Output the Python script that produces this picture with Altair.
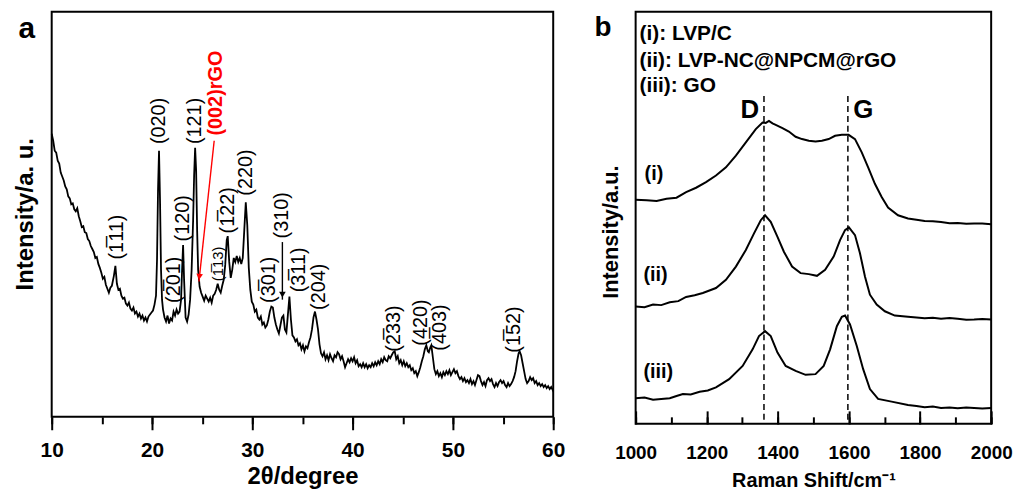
import altair as alt
import pandas as pd

# ---------------- panel a : XRD ----------------
two_theta = [
    10.0, 10.15, 10.3, 10.45, 10.6, 10.75, 10.9, 11.05, 11.2, 11.35, 11.5, 11.65, 11.8, 11.95,
    12.1, 12.25, 12.4, 12.55, 12.7, 12.85, 13.0, 13.15, 13.3, 13.45, 13.6, 13.75, 13.9, 14.05,
    14.2, 14.35, 14.5, 14.65, 14.8, 14.95, 15.1, 15.25, 15.4, 15.55, 15.7, 15.85, 16.0, 16.2,
    16.35, 16.5, 16.65, 16.8, 16.95, 17.1, 17.25, 17.4, 17.55, 17.7, 17.85, 18.0, 18.15, 18.3,
    18.45, 18.6, 18.75, 18.9, 19.05, 19.2, 19.35, 19.5, 19.65, 19.8, 19.95, 20.1, 20.25, 20.4,
    20.5, 20.6, 20.7, 20.8, 20.9, 21.0, 21.1, 21.25, 21.4, 21.55, 21.7, 21.85, 22.0, 22.15,
    22.3, 22.45, 22.6, 22.75, 22.9, 23.0, 23.1, 23.2, 23.35, 23.5, 23.65, 23.8, 23.95, 24.1,
    24.2, 24.3, 24.4, 24.5, 24.6, 24.75, 24.9, 25.05, 25.2, 25.35, 25.5, 25.65, 25.8, 25.95,
    26.1, 26.25, 26.4, 26.55, 26.7, 26.85, 27.0, 27.15, 27.3, 27.45, 27.55, 27.7, 27.85, 28.0,
    28.15, 28.3, 28.45, 28.6, 28.75, 28.9, 29.05, 29.2, 29.35, 29.5, 29.65, 29.8, 29.95, 30.1,
    30.25, 30.4, 30.55, 30.7, 30.85, 31.0, 31.15, 31.3, 31.45, 31.6, 31.75, 31.9, 32.05, 32.2,
    32.35, 32.5, 32.65, 32.8, 32.95, 33.1, 33.25, 33.4, 33.55, 33.7, 33.85, 34.0, 34.15, 34.3,
    34.45, 34.6, 34.75, 34.9, 35.05, 35.2, 35.35, 35.5, 35.65, 35.8, 35.95, 36.1, 36.25, 36.4,
    36.55, 36.7, 36.85, 37.0, 37.15, 37.3, 37.45, 37.6, 37.75, 37.9, 38.05, 38.2, 38.35, 38.5,
    38.65, 38.8, 38.95, 39.1, 39.25, 39.4, 39.55, 39.7, 39.85, 40.0, 40.15, 40.3, 40.45, 40.6,
    40.75, 40.9, 41.05, 41.2, 41.35, 41.5, 41.65, 41.8, 41.95, 42.1, 42.25, 42.4, 42.55, 42.7,
    42.85, 43.0, 43.15, 43.3, 43.45, 43.6, 43.75, 43.9, 44.05, 44.2, 44.35, 44.5, 44.65, 44.8,
    44.95, 45.1, 45.25, 45.4, 45.55, 45.7, 45.85, 46.0, 46.15, 46.3, 46.45, 46.6, 46.75, 46.9,
    47.05, 47.2, 47.35, 47.5, 47.6, 47.75, 47.85, 48.0, 48.15, 48.3, 48.45, 48.6, 48.75, 48.9,
    49.05, 49.2, 49.35, 49.5, 49.65, 49.8, 49.95, 50.1, 50.25, 50.4, 50.55, 50.7, 50.85, 51.0,
    51.15, 51.3, 51.45, 51.6, 51.75, 51.9, 52.05, 52.2, 52.35, 52.5, 52.65, 52.8, 52.95, 53.1,
    53.25, 53.4, 53.55, 53.7, 53.85, 54.0, 54.15, 54.3, 54.45, 54.6, 54.75, 54.9, 55.05, 55.2,
    55.35, 55.5, 55.65, 55.8, 55.95, 56.1, 56.25, 56.4, 56.55, 56.65, 56.8, 56.95, 57.1, 57.25,
    57.4, 57.55, 57.7, 57.85, 58.0, 58.15, 58.3, 58.45, 58.6, 58.75, 58.9, 59.05, 59.2, 59.35,
    59.5, 59.65, 59.8, 59.95, 60.0,
]
xrd_intensity = [
    285, 278, 268, 266, 258, 255, 246, 242, 238, 232, 229, 222, 220, 214,
    215, 209, 207, 210, 202, 197, 191, 192, 186, 185, 179, 177, 172, 169,
    166, 160, 161, 154, 150, 145, 139, 141, 133, 129, 125, 130, 132, 142,
    152, 134, 128, 129, 122, 119, 120, 114, 112, 115, 109, 107, 110, 104,
    106, 101, 104, 99, 102, 97, 100, 96, 101, 103, 105, 107, 113, 122,
    158, 228, 268, 218, 148, 118, 108, 100, 96, 102, 94, 99, 97, 106,
    102, 108, 104, 106, 118, 148, 173, 138, 100, 96, 103, 118, 148, 198,
    243, 271, 248, 188, 148, 131, 125, 121, 117, 122, 119, 116, 120, 115,
    122, 124, 128, 134, 128, 125, 132, 138, 153, 178, 182, 156, 140, 148,
    160, 156, 162, 156, 160, 154, 160, 188, 216, 193, 150, 128, 116, 113,
    106, 108, 100, 98, 101, 93, 95, 90, 92, 98, 106, 111, 110, 100,
    93, 88, 84, 92, 100, 102, 88, 85, 103, 121, 98, 82, 80, 76,
    78, 72, 74, 68, 72, 66, 71, 69, 75, 80, 88, 100, 106, 98,
    88, 73, 64, 61, 65, 58, 62, 57, 63, 59, 56, 62, 60, 65,
    63, 58, 61, 56, 50, 54, 58, 55, 59, 56, 60, 54, 57, 51,
    53, 50, 54, 50, 53, 49, 52, 50, 54, 51, 55, 52, 56, 53,
    58, 55, 60, 57, 56, 61, 59, 62, 65, 66, 58, 61, 54, 57,
    52, 56, 51, 54, 50, 52, 47, 49, 44, 46, 41, 45, 50, 56,
    61, 68, 72, 66, 65, 70, 72, 60, 48, 43, 46, 41, 44, 40,
    45, 42, 46, 43, 47, 42, 45, 48, 44, 46, 41, 38, 40, 36,
    39, 35, 37, 34, 38, 33, 36, 32, 37, 42, 41, 36, 32, 35,
    31, 37, 39, 36, 38, 33, 30, 34, 31, 35, 37, 34, 36, 32,
    30, 34, 31, 33, 36, 40, 46, 56, 64, 66, 62, 54, 46, 38,
    34, 36, 40, 37, 39, 34, 36, 32, 34, 31, 33, 30, 32, 29,
    31, 28, 30, 27, 29,
]

peak_labels = ["(1\u030511)", "(020)", "(2\u030501)", "(120)", "(121)", "(1\u030513)",
               "(1\u030522)", "(220)", "(3\u030501)", "(310)", "(3\u030511)", "(204)",
               "(2\u030533)", "(420)", "(4\u030503)", "(1\u030552)"]
peak_label_pos = [16.5, 20.72, 22.18, 23.1, 24.26, 26.56, 27.55, 29.38, 31.68, 33.0,
                  34.65, 36.63, 44.16, 46.86, 48.68, 56.1]
peak_label_height = [181, 298, 138, 200, 298, 154, 208, 246, 138, 203, 148, 131, 89, 95, 90, 88]
peak_label_size = [20, 20, 20, 20, 20, 15, 20, 20, 20, 20, 20, 20, 20, 20, 20, 20]

rgo_label = ["(002)rGO"]
rgo_label_pos = [26.34]
rgo_label_height = [326]

arrow_from_x = [26.2, 33.0]
arrow_from_y = [278, 176]
arrow_to_x = [24.68, 33.0]
arrow_to_y = [136.3, 118]
arrow_head_x = [24.72, 33.0]
arrow_head_y = [141.0, 123]
arrow_head_angle = [6.3, 0]
arrow_colors = ["red", "black"]

# ---------------- panel b : Raman ----------------
raman_i_x = [1000, 1031, 1059, 1087, 1115, 1142, 1170, 1198, 1226, 1254, 1282, 1310, 1338, 1357,
             1366, 1375, 1385, 1394, 1413, 1431, 1450, 1468, 1487, 1506, 1524, 1543, 1561, 1580,
             1599, 1617, 1636, 1654, 1673, 1692, 1710, 1738, 1766, 1790, 1813, 1836, 1859, 1883,
             1906, 1930, 1952, 1975, 2000]
raman_i_y = [225.7, 225, 224.3, 226.7, 227.7, 233.3, 237.7, 243.3, 250, 258.3, 270, 283.3, 296.7, 303.3,
             303.0, 305, 302.5, 301, 297.7, 294.3, 289, 286.7, 285, 284.3, 285, 286.7, 290, 291,
             291, 286.7, 273.3, 258.3, 241.7, 228.3, 217.7, 210, 206.7, 205.5, 204.3, 204.0, 203.3, 202.0,
             202.3, 201.5, 201.7, 201.8, 201]

raman_ii_x = [1000, 1025, 1049, 1072, 1096, 1120, 1142, 1166, 1189, 1226, 1254, 1282, 1310, 1333,
              1352, 1364, 1380, 1399, 1417, 1440, 1464, 1487, 1510, 1533, 1557, 1575, 1589, 1600,
              1617, 1631, 1645, 1659, 1678, 1701, 1729, 1766, 1790, 1813, 1836, 1859, 1883, 1906,
              1930, 1952, 1975, 2000]
raman_ii_y = [118, 117.3, 120, 119.5, 122.3, 123.5, 127.7, 129.5, 131.7, 136.7, 145, 158.3, 175, 191.7,
              205, 210, 203.3, 188.3, 173.3, 158.3, 151.7, 150.7, 149, 155, 168.3, 185, 195, 197.7,
              190, 171.7, 148.3, 130, 120, 113.3, 109, 107.7, 107.0, 106.3, 106.8, 105.7, 106.5, 105.7,
              104.8, 105, 105.6, 105]

raman_iii_x = [1000, 1025, 1049, 1072, 1096, 1115, 1133, 1155, 1180, 1203, 1226, 1263, 1301, 1329,
               1347, 1364, 1380, 1399, 1422, 1450, 1478, 1506, 1529, 1547, 1566, 1580, 1589, 1603,
               1622, 1640, 1659, 1682, 1720, 1766, 1790, 1813, 1836, 1859, 1883, 1906, 1930, 1952,
               1975, 2000]
raman_iii_y = [25.7, 26.5, 24.3, 25.0, 25.7, 28.0, 30, 29.5, 32.3, 33.5, 36.7, 45, 58.3, 75,
               88.3, 93.3, 88.3, 71.7, 58.3, 53.3, 49.3, 50, 58.3, 75, 98.3, 107.7, 109, 100,
               78.3, 55, 35, 25, 22.3, 19, 18.0, 16.7, 17.3, 16, 16.5, 15.7, 16.3, 16,
               15.5, 16]

legend_lines = ["(i): LVP/C", "(ii): LVP-NC@NPCM@rGO", "(iii): GO"]
legend_x = [1011, 1011, 1011]
legend_y = [392, 365, 340]

band_names = ["D", "G"]
band_pos = [1361, 1597]
band_label_x = [1321, 1640]
band_label_y = [316, 316]
band_line_top = [330, 330]

curve_names = ["(i)", "(ii)", "(iii)"]
curve_name_x = [1025, 1022, 1022]
curve_name_y = [251, 150, 52]

FONT = "Liberation Sans"
LABEL_FONT = "Liberation Sans, DejaVu Sans"
A_W, A_H = 505, 408
B_W, B_H = 358, 415

# ---------------- build panel a ----------------
xrd_df = pd.DataFrame({"tt": two_theta, "I": xrd_intensity})
peak_df = pd.DataFrame({"tt": peak_label_pos, "I": peak_label_height,
                        "label": peak_labels, "fs": peak_label_size})
rgo_df = pd.DataFrame({"tt": rgo_label_pos, "I": rgo_label_height, "label": rgo_label})
arrow_df = pd.DataFrame({"x": arrow_from_x, "y": arrow_from_y, "x2": arrow_to_x, "y2": arrow_to_y,
                         "hx": arrow_head_x, "hy": arrow_head_y, "ang": arrow_head_angle,
                         "c": arrow_colors})

xa_scale = alt.Scale(domain=[10, 60], nice=False)
ya_scale = alt.Scale(domain=[0, A_H], nice=False, zero=False)

xa_major = alt.Axis(orient="bottom", values=[10, 20, 30, 40, 50, 60], tickSize=13, tickWidth=2,
                    tickColor="black", labelFontSize=21, labelFontWeight="bold", labelColor="black",
                    labelPadding=10, domain=False, grid=False, title="2\u03b8/degree",
                    titleFontSize=24, titleFontWeight="bold", titleColor="black", titleY=60,
                    titleBaseline="middle", labelFlush=False, format="d")
xa_minor = alt.Axis(orient="bottom", values=[10, 15, 20, 25, 30, 35, 40, 45, 50, 55, 60], tickSize=7,
                    tickWidth=2, tickColor="black", labels=False, domain=False, grid=False, title=None)

a_line = alt.Chart(xrd_df).mark_line(color="black", strokeWidth=1.8).encode(
    x=alt.X("tt:Q", scale=xa_scale, axis=xa_major),
    y=alt.Y("I:Q", scale=ya_scale, axis=None),
)
a_peaks = alt.Chart(peak_df).mark_text(angle=270, align="center", baseline="middle",
                                       color="black", font=LABEL_FONT).encode(
    x=alt.X("tt:Q", scale=xa_scale, axis=xa_minor),
    y=alt.Y("I:Q", scale=ya_scale, axis=None),
    text="label:N",
    size=alt.Size("fs:Q", scale=None, legend=None),
)
a_rgo = alt.Chart(rgo_df).mark_text(angle=270, align="center", baseline="middle", color="red",
                                    fontSize=20, fontWeight="bold").encode(
    x=alt.X("tt:Q", scale=xa_scale, axis=None),
    y=alt.Y("I:Q", scale=ya_scale, axis=None),
    text="label:N",
)
a_arrows = alt.Chart(arrow_df).mark_rule(strokeWidth=1.4).encode(
    x=alt.X("x:Q", scale=xa_scale, axis=None),
    y=alt.Y("y:Q", scale=ya_scale, axis=None),
    x2="x2:Q", y2="y2:Q",
    color=alt.Color("c:N", scale=None, legend=None),
)
a_heads = alt.Chart(arrow_df).mark_point(shape="triangle-down", filled=True, size=45, opacity=1).encode(
    x=alt.X("hx:Q", scale=xa_scale, axis=None),
    y=alt.Y("hy:Q", scale=ya_scale, axis=None),
    angle=alt.Angle("ang:Q", scale=None),
    color=alt.Color("c:N", scale=None, legend=None),
)
a_letter = alt.Chart(pd.DataFrame({"t": ["a"]})).mark_text(
    fontSize=30, fontWeight="bold", align="center", baseline="alphabetic", color="black").encode(
    x=alt.value(-25), y=alt.value(27), text="t:N")
a_ytitle = alt.Chart(pd.DataFrame({"t": ["Intensity/a. u."]})).mark_text(
    fontSize=24, fontWeight="bold", align="center", baseline="middle", angle=270,
    color="black").encode(x=alt.value(-26), y=alt.value(204), text="t:N")

panel_a = alt.layer(a_line, a_peaks, a_rgo, a_arrows, a_heads, a_letter, a_ytitle).resolve_axis(
    x="independent").properties(width=A_W, height=A_H)

# ---------------- build panel b ----------------
raman_df = pd.concat([
    pd.DataFrame({"r": raman_i_x, "I": raman_i_y, "s": "i"}),
    pd.DataFrame({"r": raman_ii_x, "I": raman_ii_y, "s": "ii"}),
    pd.DataFrame({"r": raman_iii_x, "I": raman_iii_y, "s": "iii"}),
])
legend_df = pd.DataFrame({"r": legend_x, "I": legend_y, "t": legend_lines})
band_df = pd.DataFrame({"r": band_pos, "top": band_line_top, "bottom": [0, 0],
                        "lx": band_label_x, "ly": band_label_y, "t": band_names})
cname_df = pd.DataFrame({"r": curve_name_x, "I": curve_name_y, "t": curve_names})

xb_scale = alt.Scale(domain=[1000, 2000], nice=False)
yb_scale = alt.Scale(domain=[0, B_H], nice=False, zero=False)

xb_major = alt.Axis(orient="bottom", values=[1000, 1200, 1400, 1600, 1800, 2000], offset=-13,
                    tickSize=13, tickWidth=2, tickColor="black", labelFontSize=19,
                    labelFontWeight="bold", labelColor="black", labelPadding=20, domain=False,
                    grid=False, title="Raman Shift/cm\u207b\u00b9", titleFontSize=20,
                    titleFontWeight="bold", titleColor="black", titleY=70, titleBaseline="middle",
                    labelFlush=False, format="d")
xb_minor = alt.Axis(orient="bottom", values=[1000, 1100, 1200, 1300, 1400, 1500, 1600, 1700, 1800,
                                             1900, 2000], offset=-7, tickSize=7, tickWidth=2,
                    tickColor="black", labels=False, domain=False, grid=False, title=None)

b_lines = alt.Chart(raman_df).mark_line(color="black", strokeWidth=2).encode(
    x=alt.X("r:Q", scale=xb_scale, axis=xb_major),
    y=alt.Y("I:Q", scale=yb_scale, axis=None),
    detail="s:N",
)
b_dash = alt.Chart(band_df).mark_rule(color="black", strokeWidth=1.5, strokeDash=[6, 4]).encode(
    x=alt.X("r:Q", scale=xb_scale, axis=xb_minor),
    y=alt.Y("top:Q", scale=yb_scale, axis=None),
    y2="bottom:Q",
)
b_band_text = alt.Chart(band_df).mark_text(fontSize=26, fontWeight="bold", align="center",
                                           baseline="middle", color="black").encode(
    x=alt.X("lx:Q", scale=xb_scale, axis=None),
    y=alt.Y("ly:Q", scale=yb_scale, axis=None),
    text="t:N",
)
b_legend = alt.Chart(legend_df).mark_text(fontSize=21, fontWeight="bold", align="left",
                                          baseline="middle", color="black").encode(
    x=alt.X("r:Q", scale=xb_scale, axis=None),
    y=alt.Y("I:Q", scale=yb_scale, axis=None),
    text="t:N",
)
b_cnames = alt.Chart(cname_df).mark_text(fontSize=20, fontWeight="bold", align="left",
                                         baseline="middle", color="black").encode(
    x=alt.X("r:Q", scale=xb_scale, axis=None),
    y=alt.Y("I:Q", scale=yb_scale, axis=None),
    text="t:N",
)
b_letter = alt.Chart(pd.DataFrame({"t": ["b"]})).mark_text(
    fontSize=28, fontWeight="bold", align="center", baseline="alphabetic", color="black").encode(
    x=alt.value(-33), y=alt.value(25), text="t:N")
b_ytitle = alt.Chart(pd.DataFrame({"t": ["Intensity/a.u."]})).mark_text(
    fontSize=22, fontWeight="bold", align="center", baseline="middle", angle=270,
    color="black").encode(x=alt.value(-25), y=alt.value(222), text="t:N")

panel_b = alt.layer(b_lines, b_dash, b_band_text, b_legend, b_cnames, b_letter, b_ytitle).resolve_axis(
    x="independent").properties(width=B_W, height=B_H)

chart = alt.hconcat(panel_a, panel_b, spacing=83, bounds="flush").properties(
    padding={"left": 5, "top": 1, "right": 0, "bottom": 0}
).configure(font=FONT).configure_view(stroke="black", strokeWidth=2)

chart.save("out.html", embed_options={"renderer": "svg", "actions": False})
